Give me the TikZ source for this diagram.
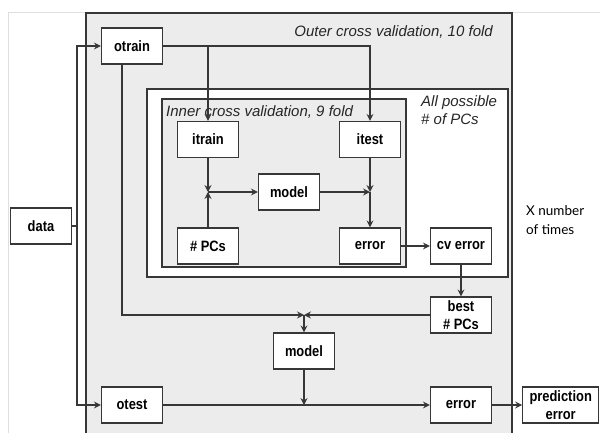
\documentclass[tikz,border=0pt]{standalone}
\usepackage{fontspec}
\setmainfont{Liberation Sans}
\newfontfamily\boxfont[FakeStretch=0.86]{Liberation Sans}
\newfontfamily\notefont{Lato}
\usetikzlibrary{positioning,arrows.meta}
\definecolor{linegray}{RGB}{55,55,55}
\definecolor{panelgray}{RGB}{236,236,236}
\tikzset{
  blk/.style={draw=linegray,fill=white,line width=1.2pt,
              minimum width=61pt,minimum height=36pt,inner sep=1pt,
              align=center,font=\boxfont\bfseries\fontsize{15}{18}\selectfont},
  panel/.style={draw=linegray,line width=1.2pt},
  tag/.style={inner sep=0pt,text=black!85,font=\itshape\fontsize{15}{18}\selectfont},
  note/.style={inner sep=0pt,font=\notefont\fontsize{13.5}{19}\selectfont},
  wire/.style={line width=1.2pt,draw=linegray},
  arr/.style={-{Stealth[length=7pt,width=7pt,inset=2.5pt]},line width=1.2pt,draw=linegray},
}
\begin{document}
\begin{tikzpicture}[x=1pt,y=-1pt]
  \useasboundingbox (0,0) rectangle (600,433);
  \clip (0,0) rectangle (600,433);
  % page frame
  \draw[gray!25,line width=0.8pt] (8,433) -- (8,12) -- (600,12);
  % outer loop, all # of PCs, inner loop
  \draw[panel,fill=panelgray] (86,13) rectangle (512,445);
  \draw[panel,fill=white] (147,89) rectangle (508,277);
  \draw[panel,fill=panelgray] (162,99) rectangle (406,267);

  \node[tag,anchor=east] (outerlbl) at (493,32) {Outer cross validation, 10 fold};
  \node[tag,anchor=west] (innerlbl) at (166,112) {Inner cross validation, 9 fold};
  \node[tag,anchor=north west,align=left] (pclbl) at (421,95) {All possible\\\# of PCs};
  \node[note,anchor=west,align=left] (times) at (526,220) {X number\\of times};

  \coordinate (split) at (77,226);
  \coordinate (jin) at (208,192);
  \coordinate (jout) at (370,192);
  \coordinate (jbest) at (304,315);
  \coordinate (jtest) at (304,405);

  \node[blk] (data) at (41,226) {data};
  \node[blk] (otrain) at (132,46) {otrain};
  \node[blk] (otest) at (132,405) {otest};
  \node[blk] (itrain) at (208,139.5) {itrain};
  \node[blk] (itest) at (370,139.5) {itest};
  \node[blk] (imodel) at (289,192) {model};
  \node[blk] (npcs) at (208,246) {\# PCs};
  \node[blk] (ierror) at (370,246) {error};
  \node[blk] (cverr) at (461,246) {cv error};
  \node[blk] (best) at (cverr |- jbest) {best\\\# PCs};
  \node[blk] (omodel) at (304,351) {model};
  \node[blk] (oerror) at (461,405) {error};
  \node[blk,right=30pt of oerror,minimum width=76pt] (pred) {prediction\\error};

  % data split
  \draw[wire] (data.east) -- (split);
  \draw[arr] (split) |- (otrain.west);
  \draw[arr] (split) |- (otest.west);
  % outer training set
  \draw[arr] (otrain.east) -| (itest.north);
  \draw[arr] (otrain.east -| itrain.north) -- (itrain.north);
  \draw[arr] ([xshift=-10pt]otrain.south) |- (jbest);
  % inner loop
  \draw[arr] (itrain.south) -- (jin);
  \draw[arr] (npcs.north) -- (jin);
  \draw[arr] (jin) -- (imodel.west);
  \draw[arr] (imodel.east) -- (jout);
  \draw[arr] (itest.south) -- (jout);
  \draw[arr] (jout) -- (ierror.north);
  \draw[arr] (ierror.east) -- (cverr.west);
  \draw[arr] (cverr.south) -- (best.north);
  % final model and test
  \draw[arr] (best.west) -- (jbest);
  \draw[arr] (jbest) -- (omodel.north);
  \draw[arr] (omodel.south) -- (jtest);
  \draw[arr] (otest.east) -- (oerror.west);
  \draw[arr] (oerror.east) -- (pred.west);
\end{tikzpicture}
\end{document}
